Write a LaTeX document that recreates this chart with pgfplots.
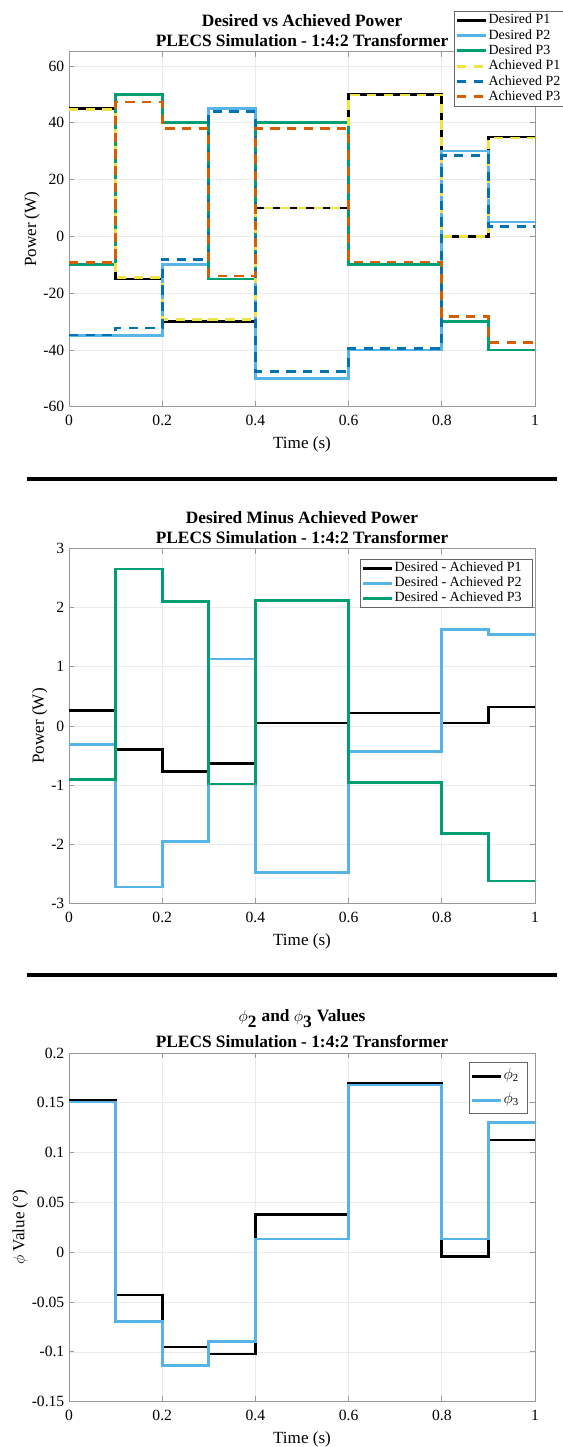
\documentclass[border=0pt]{standalone}
\usepackage{fontspec}
\setmainfont{Liberation Serif}
\usepackage{pgfplots}
\pgfplotsset{compat=1.18}
\definecolor{cSky}{RGB}{86,180,233}
\definecolor{cGreen}{RGB}{0,158,115}
\definecolor{cYellow}{RGB}{240,228,66}
\definecolor{cBlue}{RGB}{0,114,178}
\definecolor{cVerm}{RGB}{213,94,0}
\pgfplotsset{
  base/.style={
    scale only axis, width=349.5pt, xmin=0, xmax=1,
    xtick={0,0.2,0.4,0.6,0.8,1}, xticklabels={0,0.2,0.4,0.6,0.8,1},
    grid=major, major grid style={color=black!8, line width=0.5pt},
    axis line style={black!40, line width=0.6pt},
    tick style={black!40, line width=0.6pt},
    tick align=inside, major tick length=4pt,
    tick label style={font=\fontsize{11.7}{14}\selectfont},
    xticklabel style={yshift=-3pt},
    label style={font=\fontsize{12.8}{15}\selectfont},
    xlabel style={yshift=-1pt},
    ylabel style={yshift=-4pt},
    title style={font=\bfseries\fontsize{13}{15}\selectfont, align=center, at={(0.5,1)}, anchor=south, yshift=-2.5pt, inner sep=0pt},
    xlabel={Time (s)},
    every axis plot/.append style={line width=2pt, const plot, no markers},
    legend cell align=left,
    legend image code/.code={\draw[##1, line width=2.2pt] (0pt,0pt) -- (21.5pt,0pt);},
    legend style={font=\fontsize{10.5}{12}\selectfont, draw=black!60, line width=0.5pt, fill=white, inner sep=1pt, row sep=0pt,
      nodes={inner xsep=1pt, inner ysep=0.5pt, text height=8pt, text depth=2.5pt}},
    /pgf/number format/assume math mode=true,
  },
  dsh/.style={dash pattern=on 7pt off 5.5pt},
}
\begin{document}
\begin{tikzpicture}
\useasboundingbox (0pt,0pt) rectangle (421.5pt,-1085.25pt);
% ---------------- top ----------------
\begin{axis}[base, at={(51.75pt,-38.8pt)}, anchor=north west, height=266.25pt,
  ymin=-60, ymax=65, ytick={-60,-40,-20,0,20,40,60},
  yticklabels={-60,-40,-20,0,20,40,60},
  ylabel={Power (W)},
  title={Desired vs Achieved Power\\PLECS Simulation - 1:4:2 Transformer},
  legend style={at={(0.826,1.115)}, anchor=north west}]
\addplot[black] coordinates {(0,45)(0.1,-15)(0.2,-30)(0.4,10)(0.6,50)(0.8,0)(0.9,35)(1,35)};
\addlegendentry{Desired P1}
\addplot[cSky] coordinates {(0,-35)(0.2,-10)(0.3,45)(0.4,-50)(0.6,-40)(0.8,30)(0.9,5)(1,5)};
\addlegendentry{Desired P2}
\addplot[cGreen] coordinates {(0,-10)(0.1,50)(0.2,40)(0.3,-15)(0.4,40)(0.6,-10)(0.8,-30)(0.9,-40)(1,-40)};
\addlegendentry{Desired P3}
\addplot[cYellow, dsh] coordinates {(0,44.74)(0.1,-14.60)(0.2,-29.23)(0.3,-29.37)(0.4,9.95)(0.6,49.78)(0.8,-0.05)(0.9,34.68)(1,34.68)};
\addlegendentry{Achieved P1}
\addplot[cBlue, dsh] coordinates {(0,-34.69)(0.1,-32.28)(0.2,-8.05)(0.3,43.87)(0.4,-47.52)(0.6,-39.57)(0.8,28.37)(0.9,3.46)(1,3.46)};
\addlegendentry{Achieved P2}
\addplot[cVerm, dsh] coordinates {(0,-9.10)(0.1,47.35)(0.2,37.90)(0.3,-14.02)(0.4,37.88)(0.6,-9.04)(0.8,-28.18)(0.9,-37.38)(1,-37.38)};
\addlegendentry{Achieved P3}
\end{axis}
\draw[line width=3pt] (20.25pt,-359.25pt) -- (417.75pt,-359.25pt);
% ---------------- middle ----------------
\begin{axis}[base, at={(51.75pt,-411.2pt)}, anchor=north west, height=266.5pt,
  ymin=-3, ymax=3, ytick={-3,-2,-1,0,1,2,3},
  yticklabels={-3,-2,-1,0,1,2,3},
  ylabel={Power (W)},
  title={Desired Minus Achieved Power\\PLECS Simulation - 1:4:2 Transformer},
  legend style={at={(0.995,0.970)}, anchor=north east, nodes={text height=7.75pt}}]
\addplot[black] coordinates {(0,0.26)(0.1,-0.40)(0.2,-0.77)(0.3,-0.63)(0.4,0.05)(0.6,0.22)(0.8,0.05)(0.9,0.32)(1,0.32)};
\addlegendentry{Desired - Achieved P1\hspace*{6pt}}
\addplot[cSky] coordinates {(0,-0.31)(0.1,-2.72)(0.2,-1.95)(0.3,1.13)(0.4,-2.48)(0.6,-0.43)(0.8,1.63)(0.9,1.54)(1,1.54)};
\addlegendentry{Desired - Achieved P2\hspace*{6pt}}
\addplot[cGreen] coordinates {(0,-0.90)(0.1,2.65)(0.2,2.10)(0.3,-0.98)(0.4,2.12)(0.6,-0.96)(0.8,-1.82)(0.9,-2.62)(1,-2.62)};
\addlegendentry{Desired - Achieved P3\hspace*{6pt}}
\end{axis}
\draw[line width=3pt] (20.25pt,-731.25pt) -- (417.75pt,-731.25pt);
% ---------------- bottom ----------------
\begin{axis}[base, at={(51.75pt,-789.75pt)}, anchor=north west, height=261.5pt,
  ymin=-0.15, ymax=0.2, ytick={-0.15,-0.1,-0.05,0,0.05,0.1,0.15,0.2},
  yticklabels={-0.15,-0.1,-0.05,0,0.05,0.1,0.15,0.2},
  ylabel={$\phi$ Value (°)},
  title={$\phi_{\textbf{2}}$ and $\phi_{\textbf{3}}$ Values\\[5pt]PLECS Simulation - 1:4:2 Transformer},
  legend style={at={(0.9835,0.973)}, anchor=north east, nodes={text height=11pt, text depth=6pt}}]
\addplot[black] coordinates {(0,0.153)(0.1,-0.043)(0.2,-0.095)(0.3,-0.102)(0.4,0.038)(0.6,0.170)(0.8,-0.0045)(0.9,0.1127)(1,0.1127)};
\addlegendentry{\fontsize{12}{14}\selectfont$\phi_{\mathrm{2}}$\hspace*{4pt}}
\addplot[cSky] coordinates {(0,0.1507)(0.1,-0.0697)(0.2,-0.114)(0.3,-0.0897)(0.4,0.0134)(0.6,0.168)(0.8,0.0134)(0.9,0.1305)(1,0.1305)};
\addlegendentry{\fontsize{12}{14}\selectfont$\phi_{\mathrm{3}}$\hspace*{4pt}}
\end{axis}
\end{tikzpicture}
\end{document}
